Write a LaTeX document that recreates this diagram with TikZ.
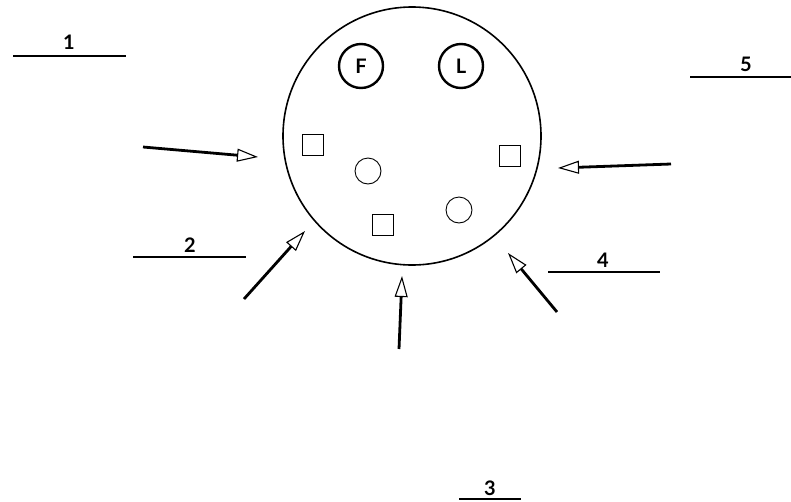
\documentclass[tikz,border=0pt]{standalone}
\usepackage{fontspec}
\setsansfont{Lato}
\usetikzlibrary{arrows.meta}

\begin{document}
\begin{tikzpicture}[
      x=1pt, y=-1pt,
      dish/.style={circle, draw, line width=1.6pt, minimum size=258pt, inner sep=0pt},
      tag/.style={circle, draw, line width=2.4pt, minimum size=44pt, inner sep=0pt,
                  font=\sffamily\bfseries\fontsize{20}{22}\selectfont},
      sq/.style={rectangle, draw, line width=0.9pt, minimum size=21pt, inner sep=0pt},
      dot/.style={circle, draw, line width=0.9pt, minimum size=26pt, inner sep=0pt},
      num/.style={font=\sffamily\bfseries\fontsize{20}{22}\selectfont, inner sep=0pt},
      rule/.style={line width=1.6pt},
      push/.style={line width=2.8pt, -{Triangle[open, length=21pt, width=13pt, line width=1.1pt]}}
    ]
    \useasboundingbox (0,0) rectangle (791,501);

    \node[dish] (d) at (412,136) {};
    \node[tag] (f) at (361,66) {F};
    \node[tag] (l) at (461,66) {L};

    \node[sq] (s1) at (313,145) {};
    \node[sq] (s2) at (383,225) {};
    \node[sq] (s3) at (510,156) {};
    \node[dot] (c1) at (368,171) {};
    \node[dot] (c2) at (459,210) {};

    % labels
    \node[num] (n1) at (69,42) {1};
    \node[num] (n2) at (190,245) {2};
    \node[num] (n3) at (490,488) {3};
    \node[num] (n4) at (603,260) {4};
    \node[num] (n5) at (746,64) {5};
    \coordinate (u1a) at (13,56);  \coordinate (u1b) at (126,56);
    \coordinate (u2a) at (133,257); \coordinate (u2b) at (246,257);
    \coordinate (u3a) at (459,499); \coordinate (u3b) at (521,499);
    \coordinate (u4a) at (548,272); \coordinate (u4b) at (660,272);
    \coordinate (u5a) at (690,77);  \coordinate (u5b) at (791,77);
    \draw[rule] (u1a) -- (u1b);
    \draw[rule] (u2a) -- (u2b);
    \draw[rule] (u3a) -- (u3b);
    \draw[rule] (u4a) -- (u4b);
    \draw[rule] (u5a) -- (u5b);

    % arrows
    \coordinate (a1) at (143,147); \coordinate (b1) at (258,157);
    \coordinate (a2) at (244,299); \coordinate (b2) at (305,231);
    \coordinate (a3) at (399,349); \coordinate (b3) at (402,276);
    \coordinate (a4) at (557,312); \coordinate (b4) at (508,253);
    \coordinate (a5) at (671,164); \coordinate (b5) at (558,168);
    \draw[push] (a1) -- (b1);
    \draw[push] (a2) -- (b2);
    \draw[push] (a3) -- (b3);
    \draw[push] (a4) -- (b4);
    \draw[push] (a5) -- (b5);
\end{tikzpicture}
\end{document}
